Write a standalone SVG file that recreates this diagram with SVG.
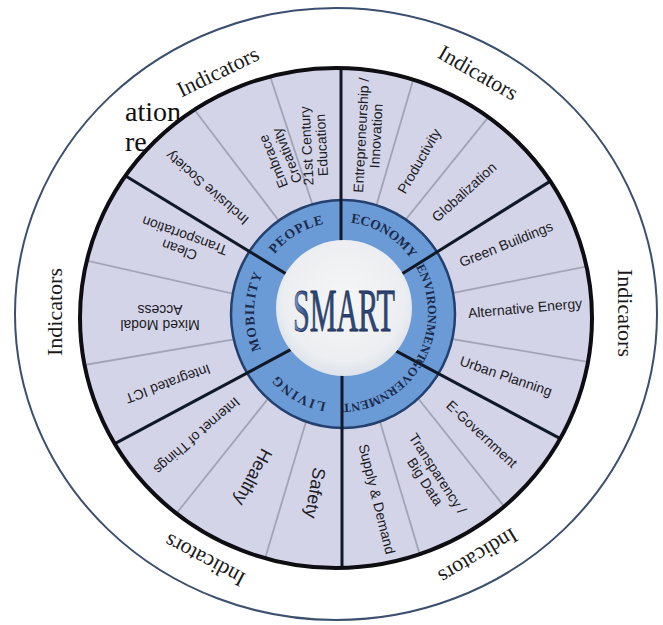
<svg xmlns="http://www.w3.org/2000/svg" width="663" height="625" viewBox="0 0 663 625">
<defs>
<style>
.ind{font-family:"Liberation Serif","Times New Roman",serif;font-size:22px;fill:#1a1a1a;text-anchor:middle}
.lab{font-family:"Liberation Sans",Arial,sans-serif;font-size:14px;fill:#1c1c24;text-anchor:middle}
.big{font-size:18px}
.ring{font-family:"Liberation Serif","Times New Roman",serif;font-size:13.5px;font-weight:bold;fill:#1b2a4a;text-anchor:middle}
.ring.sm{font-size:12.5px}
.thin{stroke:#a3a3b6;stroke-width:1.8;fill:none}
.major{stroke:#111827;stroke-width:3;fill:none}
.cap{font-family:"Liberation Serif","Times New Roman",serif;font-size:28px;fill:#111}
</style>
<clipPath id="wheelClip"><ellipse cx="336" cy="318" rx="256" ry="250"/></clipPath>
<radialGradient id="core" cx="50%" cy="45%" r="55%">
<stop offset="0" stop-color="#f6f6f6"/><stop offset="0.8" stop-color="#eceef1"/><stop offset="1" stop-color="#dde3ea"/>
</radialGradient>
<linearGradient id="smartFill" x1="0" y1="0" x2="1" y2="0">
<stop offset="0" stop-color="#7d9fd2"/><stop offset="0.14" stop-color="#2c4677"/><stop offset="1" stop-color="#2c4677"/>
</linearGradient>
<path id="ringPath" d="M341,404 A87,91 0 1 1 341,222 A87,91 0 1 1 341,404"/>
</defs>
<rect width="663" height="625" fill="#ffffff"/>
<g id="caption">
<text class="cap" x="125" y="121">ation</text>
<text class="cap" x="125" y="151">re</text>
</g>
<g id="outer-ring">
<ellipse cx="336" cy="314" rx="321" ry="306" fill="none" stroke="#3b4f6e" stroke-width="2"/>
</g>
<g id="wheel">
<ellipse cx="336" cy="318" rx="256" ry="250" fill="#d4d4e9"/>
</g>
<g id="connectors" clip-path="url(#wheelClip)">
<g id="sub-dividers">
<line class="thin" x1="329" y1="254.5" x2="260.6" y2="47.5"/>
<line class="thin" x1="309.5" y1="261" x2="178.1" y2="88.2"/>
<line class="thin" x1="296.5" y1="308" x2="57.1" y2="254"/>
<line class="thin" x1="300" y1="328" x2="48" y2="371.2"/>
<line class="thin" x1="304.5" y1="353" x2="155.1" y2="540.2"/>
<line class="thin" x1="324" y1="361.5" x2="255.6" y2="590.1"/>
<line class="thin" x1="362" y1="361.5" x2="430.4" y2="590.1"/>
<line class="thin" x1="380" y1="350.5" x2="527.6" y2="535.9"/>
<line class="thin" x1="393" y1="329" x2="627" y2="368.6"/>
<line class="thin" x1="395" y1="304.5" x2="621.8" y2="259.5"/>
<line class="thin" x1="360" y1="261.5" x2="424.8" y2="40.1"/>
<line class="thin" x1="373.5" y1="259.5" x2="508.5" y2="92.1"/>
</g>
<g id="hub-ring">
<ellipse cx="343" cy="314" rx="112" ry="114" fill="#6b9bd6" stroke="#23406e" stroke-width="2.5"/>
</g>
<g id="major-dividers">
<line class="major" x1="341" y1="300" x2="341" y2="40"/>
<line class="major" x1="342" y1="320" x2="342" y2="600"/>
<line class="major" x1="344.6" y1="309.6" x2="67.4" y2="140.4"/>
<line class="major" x1="347.4" y1="308" x2="606.6" y2="146"/>
<line class="major" x1="340.9" y1="321.6" x2="626.2" y2="473.8"/>
<line class="major" x1="341.6" y1="322.4" x2="49.2" y2="478.8"/>
</g>
</g>
<g id="wheel-rim">
<ellipse cx="336" cy="318" rx="256" ry="250" fill="none" stroke="#0d0d12" stroke-width="4"/>
</g>
<g id="smart">
<circle cx="344" cy="308" r="68" fill="url(#core)"/>
<text x="344" y="331" font-family="'Liberation Serif','Times New Roman',serif" font-size="62" textLength="102" lengthAdjust="spacingAndGlyphs" text-anchor="middle" fill="url(#smartFill)" stroke="#1b2d52" stroke-width="0.8">SMART</text>
</g>
<g id="pillars">
<text class="ring"><textPath href="#ringPath" startOffset="7.9%" letter-spacing="1.5">LIVING</textPath></text>
<text class="ring"><textPath href="#ringPath" startOffset="25.3%" letter-spacing="1">MOBILITY</textPath></text>
<text class="ring"><textPath href="#ringPath" startOffset="41.7%" letter-spacing="1">PEOPLE</textPath></text>
<text class="ring"><textPath href="#ringPath" startOffset="58.2%">ECONOMY</textPath></text>
<text class="ring sm"><textPath href="#ringPath" startOffset="75%">ENVIRONMENT</textPath></text>
<text class="ring sm"><textPath href="#ringPath" startOffset="91.5%">GOVERNMENT</textPath></text>
</g>
<g id="indicators">
<g transform="translate(218,72) rotate(-26)"><text class="ind" y="7">Indicators</text></g>
<g transform="translate(478,73) rotate(30)"><text class="ind" y="7">Indicators</text></g>
<g transform="translate(625,313) rotate(90)"><text class="ind" y="7">Indicators</text></g>
<g transform="translate(478,556) rotate(149)"><text class="ind" y="7">Indicators</text></g>
<g transform="translate(205,560) rotate(208)"><text class="ind" y="7">Indicators</text></g>
<g transform="translate(55,312) rotate(-90)"><text class="ind" y="7">Indicators</text></g>
</g>
<g id="items">
<g id="entrepreneurship" transform="translate(368.5,135.5) rotate(-87)"><text class="lab" y="-2.5">Entrepreneurship /</text><text class="lab" y="12.5">Innovation</text></g>
<g id="productivity" transform="translate(419,161) rotate(-60)"><text class="lab" y="5">Productivity</text></g>
<g id="globalization" transform="translate(464,192) rotate(-42)"><text class="lab" y="5">Globalization</text></g>
<g id="green-buildings" transform="translate(506,244) rotate(-22)"><text class="lab" y="5">Green Buildings</text></g>
<g id="alternative-energy" transform="translate(525,308) rotate(-5)"><text class="lab" y="5">Alternative Energy</text></g>
<g id="urban-planning" transform="translate(506,376) rotate(19)"><text class="lab" y="5">Urban Planning</text></g>
<g id="e-government" transform="translate(482,434) rotate(43)"><text class="lab" y="5">E-Government</text></g>
<g id="transparency" transform="translate(431.5,477.5) rotate(57)"><text class="lab" y="-2.5">Transparency /</text><text class="lab" y="12.5">Big Data</text></g>
<g id="supply-demand" transform="translate(377,499) rotate(76)"><text class="lab" y="5">Supply &amp; Demand</text></g>
<g id="safety" transform="translate(315,493) rotate(100)"><text class="lab big" y="6">Safety</text></g>
<g id="healthy" transform="translate(253,477) rotate(118)"><text class="lab big" y="6">Healthy</text></g>
<g id="internet-of-things" transform="translate(197,436) rotate(139)"><text class="lab" y="5">Internet of Things</text></g>
<g id="integrated-ict" transform="translate(168,384) rotate(160)"><text class="lab" y="5">Integrated ICT</text></g>
<g id="mixed-modal" transform="translate(160,317) rotate(180)"><text class="lab" y="-2.5">Mixed Modal</text><text class="lab" y="12.5">Access</text></g>
<g id="clean-transportation" transform="translate(182,243) rotate(200)"><text class="lab" y="-2.5">Clean</text><text class="lab" y="12.5">Transportation</text></g>
<g id="inclusive-society" transform="translate(207,188) rotate(-139)"><text class="lab" y="5">Inclusive Society</text></g>
<g id="embrace-creativity" transform="translate(280,158.5) rotate(-112)"><text class="lab" y="-2.5">Embrace</text><text class="lab" y="12.5">Creativity</text></g>
<g id="education" transform="translate(314,145.5) rotate(-93)"><text class="lab" y="-2.5">21st Century</text><text class="lab" y="12.5">Education</text></g>
</g>
</svg>
